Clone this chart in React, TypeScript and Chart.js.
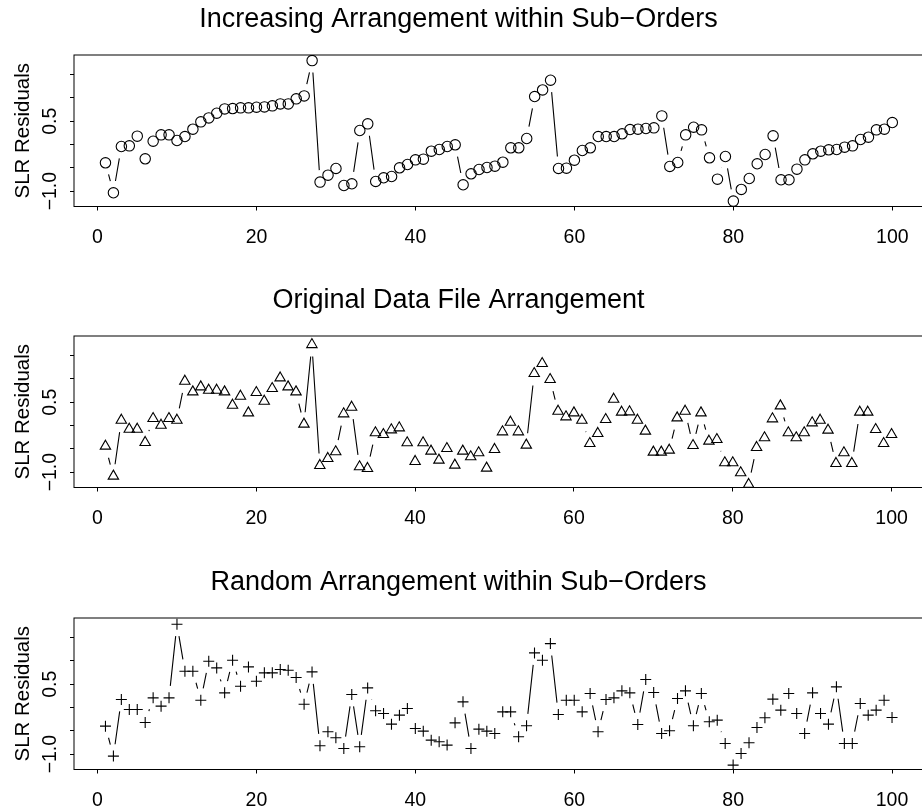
import React, { useEffect, useRef } from 'react';
import { Chart, registerables } from 'chart.js';

Chart.register(...registerables);

const FONT = '"Liberation Sans", Arial, Helvetica, sans-serif';

const xTickValues = [0, 20, 40, 60, 80, 100];
const xTickLabels = ['0', '20', '40', '60', '80', '100'];
const yTickValues = [-1, -0.5, 0, 0.5, 1, 1.5];
const yTickLabels = ['−1.0', '', '', '0.5', '', ''];
const yAxisTitle = 'SLR Residuals';

const panelTitles = [
  'Increasing Arrangement within Sub−Orders',
  'Original Data File Arrangement',
  'Random Arrangement within Sub−Orders',
];

// residuals sorted ascending inside each sub-order
const increasingResiduals = [
  -0.393, -1.036, -0.043, -0.029, 0.179, -0.307, 0.071, 0.207, 0.207, 0.086,
  0.171, 0.329, 0.486, 0.571, 0.671, 0.764, 0.771, 0.786, 0.786, 0.8,
  0.807, 0.829, 0.871, 0.871, 0.979, 1.043, 1.8, -0.807, -0.657, -0.514,
  -0.879, -0.843, 0.3, 0.443, -0.793, -0.714, -0.686, -0.5, -0.429, -0.329,
  -0.314, -0.143, -0.107, -0.043, -0.007, -0.864, -0.629, -0.536, -0.493, -0.464,
  -0.379, -0.071, -0.071, 0.129, 1.029, 1.171, 1.379, -0.514, -0.507, -0.336,
  -0.129, -0.071, 0.171, 0.171, 0.171, 0.229, 0.321, 0.329, 0.343, 0.357,
  0.614, -0.471, -0.386, 0.207, 0.371, 0.314, -0.286, -0.743, -0.257, -1.214,
  -0.964, -0.729, -0.414, -0.214, 0.186, -0.757, -0.757, -0.529, -0.329, -0.2,
  -0.143, -0.114, -0.107, -0.057, -0.029, 0.107, 0.157, 0.314, 0.329, 0.471,
];

// residuals in the order of the data file
const originalResiduals = [
  -0.443, -1.086, 0.114, -0.079, -0.079, -0.364, 0.15, 0.007, 0.15, 0.114,
  0.95, 0.721, 0.829, 0.757, 0.757, 0.721, 0.436, 0.629, 0.271, 0.707,
  0.521, 0.793, 1.021, 0.829, 0.721, 0.029, 1.736, -0.857, -0.707, -0.564,
  0.25, 0.393, -0.886, -0.921, -0.157, -0.193, -0.093, -0.05, -0.371, -0.771,
  -0.371, -0.55, -0.743, -0.493, -0.85, -0.55, -0.671, -0.586, -0.914, -0.514,
  -0.136, 0.071, -0.136, -0.421, 1.114, 1.329, 0.986, 0.307, 0.186, 0.271,
  0.114, -0.386, -0.171, 0.129, 0.564, 0.286, 0.293, 0.114, -0.121, -0.571,
  -0.571, -0.529, 0.164, 0.307, -0.429, 0.271, -0.336, -0.3, -0.8, -0.8,
  -1.014, -1.264, -0.471, -0.264, 0.143, 0.421, -0.157, -0.264, -0.157, 0.057,
  0.114, -0.1, -0.814, -0.586, -0.814, 0.286, 0.286, -0.086, -0.386, -0.193,
];

// residuals shuffled inside each sub-order
const randomResiduals = [
  -0.4, -1.043, 0.171, -0.043, -0.043, -0.321, 0.207, 0.029, 0.207, 1.786,
  0.779, 0.779, 0.157, 0.993, 0.85, 0.314, 1.014, 0.457, 0.871, 0.564,
  0.743, 0.743, 0.814, 0.8, 0.643, 0.071, 0.764, -0.821, -0.521, -0.65,
  -0.879, 0.279, -0.843, 0.421, -0.071, -0.129, -0.357, -0.164, -0.021, -0.45,
  -0.507, -0.7, -0.736, -0.807, -0.329, 0.121, -0.879, -0.464, -0.507, -0.557,
  -0.093, -0.093, -0.629, -0.393, 1.171, 1.014, 1.371, -0.15, 0.157, 0.157,
  -0.093, 0.3, -0.521, 0.171, 0.207, 0.357, 0.314, -0.364, 0.6, 0.321,
  -0.557, -0.5, 0.193, 0.357, -0.393, 0.3, -0.307, -0.271, -0.771, -1.236,
  -0.986, -0.757, -0.429, -0.221, 0.179, -0.057, 0.3, -0.129, -0.557, 0.314,
  -0.129, -0.357, 0.443, -0.771, -0.771, 0.086, -0.164, -0.057, 0.157, -0.214,
];

const panelSeries = [increasingResiduals, originalResiduals, randomResiduals];
const panelMarkers = ['circle', 'triangle', 'cross'];
const markerRadius = [5.2, 6, 5.5];

const PANEL_TOPS = [0, 281, 563];
const CANVAS_W = 932;
const CANVAS_H = 282;
const GAP = 12;

// segments between consecutive points, cut back near each marker
const gapLines = {
  id: 'gapLines',
  beforeDatasetsDraw(chart: any) {
    const ctx = chart.ctx;
    const pts = chart.getDatasetMeta(0).data;
    ctx.save();
    ctx.strokeStyle = '#000';
    ctx.lineWidth = 1.1;
    ctx.beginPath();
    for (let i = 0; i < pts.length - 1; i++) {
      const a = pts[i];
      const b = pts[i + 1];
      const dx = b.x - a.x;
      const dy = b.y - a.y;
      const len = Math.hypot(dx, dy);
      if (len <= 2 * GAP) continue;
      const ux = dx / len;
      const uy = dy / len;
      ctx.moveTo(a.x + ux * GAP, a.y + uy * GAP);
      ctx.lineTo(b.x - ux * GAP, b.y - uy * GAP);
    }
    ctx.stroke();
    ctx.restore();
  },
};

const frame = {
  id: 'frame',
  afterDraw(chart: any) {
    const { ctx, chartArea } = chart;
    ctx.save();
    ctx.strokeStyle = '#000';
    ctx.lineWidth = 1;
    ctx.strokeRect(chartArea.left, chartArea.top, chartArea.right - chartArea.left, chartArea.bottom - chartArea.top);
    ctx.restore();
  },
};

const panelTitle = {
  id: 'panelTitle',
  afterDraw(chart: any, _args: any, opts: any) {
    const ctx = chart.ctx;
    ctx.save();
    ctx.fillStyle = '#000';
    ctx.font = `27px ${FONT}`;
    ctx.textAlign = 'center';
    ctx.textBaseline = 'alphabetic';
    ctx.fillText(opts.text, opts.x, opts.y);
    ctx.restore();
  },
};

// y tick labels written parallel to the axis
const yLabels = {
  id: 'yLabels',
  afterDraw(chart: any) {
    const ctx = chart.ctx;
    const s = chart.scales.y;
    ctx.save();
    ctx.fillStyle = '#000';
    ctx.font = `19.5px ${FONT}`;
    ctx.textAlign = 'center';
    ctx.textBaseline = 'alphabetic';
    yTickValues.forEach((v, i) => {
      const label = yTickLabels[i];
      if (!label) return;
      const py = s.getPixelForValue(v);
      ctx.save();
      ctx.translate(55.5, py);
      ctx.rotate(-Math.PI / 2);
      ctx.fillText(label, 0, 0);
      ctx.restore();
    });
    ctx.restore();
  },
};

function Panel({ index }: { index: number }) {
  const ref = useRef<HTMLCanvasElement>(null);

  useEffect(() => {
    if (!ref.current) return;
    const values = panelSeries[index];
    const chart = new Chart(ref.current, {
      type: 'scatter',
      data: {
        datasets: [
          {
            data: values.map((v, i) => ({ x: i + 1, y: v })),
            pointStyle: panelMarkers[index] as any,
            pointRadius: markerRadius[index],
            pointBorderColor: '#000',
            pointBackgroundColor: 'rgba(0,0,0,0)',
            pointBorderWidth: 1.1,
            showLine: false,
          },
        ],
      },
      options: {
        animation: false,
        responsive: false,
        events: [],
        layout: { padding: { top: 55, left: 0, right: 0, bottom: 0 } },
        plugins: {
          legend: { display: false },
          tooltip: { enabled: false },
          title: { display: false },
          panelTitle: { text: panelTitles[index], x: 458.5, y: 26.7 },
        } as any,
        scales: {
          x: {
            type: 'linear',
            position: 'bottom',
            min: -2.96,
            max: 104.2,
            afterBuildTicks: (s: any) => {
              s.ticks = xTickValues.map((v) => ({ value: v }));
            },
            afterFit: (s: any) => {
              s.height = 75.5;
            },
            grid: { display: true, drawOnChartArea: false, drawTicks: true, tickLength: 4, color: '#000', lineWidth: 1 },
            border: { display: false },
            ticks: {
              font: { size: 19.5, family: FONT },
              color: '#000',
              padding: 15,
              maxRotation: 0,
              minRotation: 0,
              autoSkip: false,
              callback: (_v: any, i: number) => xTickLabels[i],
            },
          },
          y: {
            type: 'linear',
            min: -1.33,
            max: 1.92,
            afterBuildTicks: (s: any) => {
              s.ticks = yTickValues.map((v) => ({ value: v }));
            },
            afterFit: (s: any) => {
              s.width = 74;
            },
            grid: { display: true, drawOnChartArea: false, drawTicks: true, tickLength: 4, color: '#000', lineWidth: 1 },
            border: { display: false },
            ticks: { display: false },
            title: {
              display: true,
              text: yAxisTitle,
              font: { size: 20.5, family: FONT },
              color: '#000',
              padding: { top: 11, bottom: 0 },
            },
          },
        },
      },
      plugins: [gapLines, frame, panelTitle, yLabels],
    });
    return () => chart.destroy();
  }, [index]);

  return (
    <div style={{ position: 'absolute', left: 0, top: PANEL_TOPS[index], width: CANVAS_W, height: CANVAS_H }}>
      <canvas ref={ref} width={CANVAS_W} height={CANVAS_H} style={{ display: 'block', width: CANVAS_W, height: CANVAS_H }} />
    </div>
  );
}

export default function App() {
  return (
    <div
      style={{
        position: 'absolute',
        left: 0,
        top: 0,
        width: 922,
        height: 812,
        overflow: 'hidden',
        background: '#fff',
      }}
    >
      {panelTitles.map((_, i) => (
        <Panel key={i} index={i} />
      ))}
    </div>
  );
}
